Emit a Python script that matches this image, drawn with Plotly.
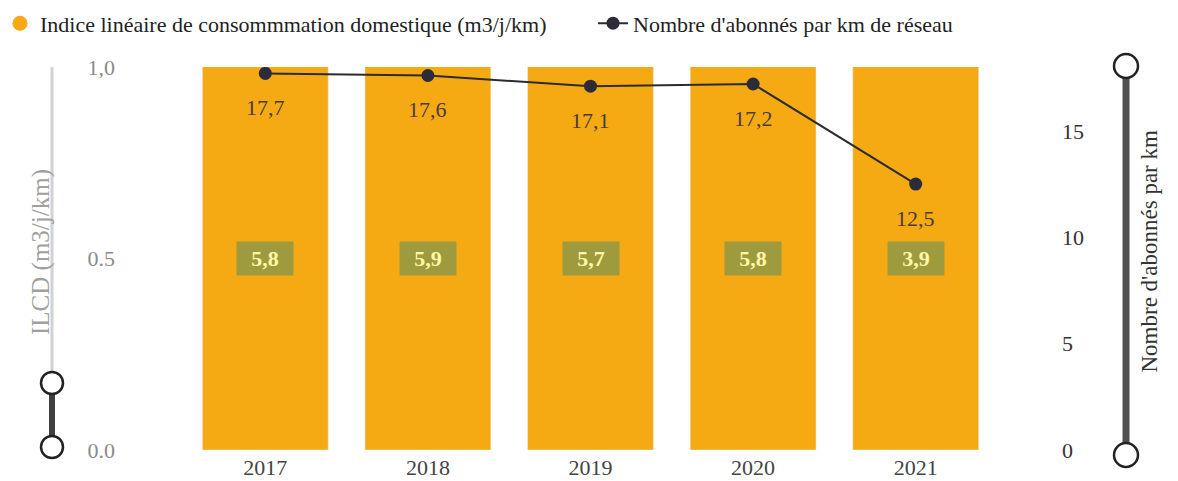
import plotly.graph_objects as go

years = ["2017", "2018", "2019", "2020", "2021"]
ilcd = [5.8, 5.9, 5.7, 5.8, 3.9]
abonnes = [17.7, 17.6, 17.1, 17.2, 12.5]
ilcd_labels = ["5,8", "5,9", "5,7", "5,8", "3,9"]
abonnes_labels = ["17,7", "17,6", "17,1", "17,2", "12,5"]
left_ticks = [0.0, 0.5, 1.0]
left_ticktext = ["0.0", "0.5", "1,0"]
right_ticks = [0, 5, 10, 15]

W, H = 1178, 481
L, R, T, B = 184, 181, 67, 31
PW, PH = W - L - R, H - T - B
FONT = "Liberation Serif, Times New Roman, DejaVu Serif, serif"
BAR = "#F5AA14"
xpos = list(range(len(years)))


def px(x):
    return (x - L) / PW


def py(y):
    return (H - B - y) / PH


fig = go.Figure()
fig.add_trace(go.Bar(x=xpos, y=ilcd, marker_color=BAR, showlegend=False,
                     hoverinfo="skip", yaxis="y", width=0.774))
fig.add_trace(go.Scatter(x=[None], y=[None], mode="markers",
                         marker=dict(color=BAR, size=15), legend="legend",
                         name="Indice linéaire de consommmation domestique (m3/j/km)"))
fig.add_trace(go.Scatter(x=xpos, y=abonnes, yaxis="y2", mode="lines+markers",
                         line=dict(color="#2b2b33", width=2), legend="legend2",
                         marker=dict(color="#2b2b3a", size=13),
                         name="Nombre d'abonnés par km de réseau"))

annotations = []
for xp, lab in zip(xpos, ilcd_labels):
    annotations.append(dict(x=xp, y=0.5, xref="x", yref="y", text="<b>" + lab + "</b>",
                            showarrow=False,
                            font=dict(family=FONT, size=22, color="#FFF7A8"),
                            bgcolor="#9E9B3E", borderpad=4, width=48))
for xp, v, lab in zip(xpos, abonnes, abonnes_labels):
    annotations.append(dict(x=xp, y=v, xref="x", yref="y2", text=lab, showarrow=False,
                            yshift=-34, font=dict(family=FONT, size=22, color="#4a3c3c")))
annotations.append(dict(x=px(25), y=py(252), xref="paper", yref="paper",
                        text="ILCD (m3/j/km)", textangle=-90, showarrow=False,
                        font=dict(family=FONT, size=25, color="#a0a0a0")))
annotations.append(dict(x=px(1163), y=py(252), xref="paper", yref="paper",
                        text="Nombre d'abonnés par km", textangle=-90, showarrow=False,
                        font=dict(family=FONT, size=23, color="#333333")))

shapes = []
# left slider
shapes.append(dict(type="line", xref="paper", yref="paper", x0=px(52), x1=px(52),
                   y0=py(67), y1=py(372), line=dict(color="#d2d2d2", width=3)))
shapes.append(dict(type="line", xref="paper", yref="paper", x0=px(52), x1=px(52),
                   y0=py(383), y1=py(447), line=dict(color="#3f3f3f", width=6)))
for cy in (383, 447):
    shapes.append(dict(type="circle", xref="paper", yref="paper",
                       x0=px(41), x1=px(63), y0=py(cy - 11), y1=py(cy + 11),
                       fillcolor="white", line=dict(color="#222", width=2.5)))
# right slider
shapes.append(dict(type="line", xref="paper", yref="paper", x0=px(1126), x1=px(1126),
                   y0=py(66), y1=py(455), line=dict(color="#505050", width=7)))
for cy in (66, 455):
    shapes.append(dict(type="circle", xref="paper", yref="paper",
                       x0=px(1114), x1=px(1138), y0=py(cy - 12), y1=py(cy + 12),
                       fillcolor="white", line=dict(color="#222", width=2.5)))

legend_common = dict(orientation="h", xref="container", yref="container", y=0.995,
                     xanchor="left", yanchor="top",
                     font=dict(family=FONT, size=22, color="#222"),
                     itemwidth=30, bgcolor="rgba(0,0,0,0)")

fig.update_layout(
    width=W, height=H,
    margin=dict(l=L, r=R, t=T, b=B, autoexpand=False),
    paper_bgcolor="white", plot_bgcolor="white",
    font=dict(family=FONT, size=22, color="#333"),
    xaxis=dict(range=[-0.5, len(years) - 0.5], tickvals=xpos, ticktext=years,
               showline=False, showgrid=False, zeroline=False, ticks="", automargin=False,
               tickfont=dict(family=FONT, size=22, color="#444"), ticklabelstandoff=2),
    yaxis=dict(range=[0, 1], tickvals=left_ticks, ticktext=left_ticktext,
               showgrid=False, zeroline=False, showline=False, automargin=False,
               tickfont=dict(family=FONT, size=22, color="#8a8a8a"),
               ticklabelstandoff=68),
    yaxis2=dict(range=[0, 18], overlaying="y", side="right", tickvals=right_ticks,
                showgrid=False, zeroline=False, showline=False, automargin=False,
                tickfont=dict(family=FONT, size=22, color="#333"),
                ticklabelstandoff=64),
    legend=dict(x=0.0, **legend_common),
    legend2=dict(x=593 / W, **legend_common),
    annotations=annotations,
    shapes=shapes,
)

fig.write_html("out.html", config={"displayModeBar": False},
               post_script="document.body.style.margin='0';")
